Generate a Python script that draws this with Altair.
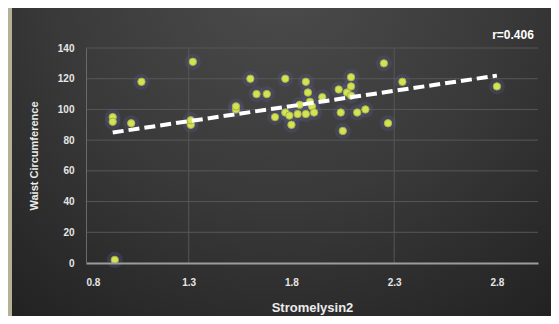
import altair as alt
import pandas as pd

# Data
stromelysin2 = [0.94, 0.93, 0.93, 1.02, 1.07, 1.32, 1.31, 1.31, 1.53, 1.53, 1.60, 1.63,
                1.68, 1.72, 1.77, 1.77, 1.79, 1.80, 1.83, 1.87, 1.87, 1.88, 1.89, 1.90,
                1.91, 2.03, 2.04, 2.05, 2.07, 2.09, 2.09, 2.09, 2.12, 2.16, 2.25, 2.27,
                2.34, 2.80, 1.84, 1.95]
waist = [2, 95, 92, 91, 118, 131, 90, 93, 100, 102, 120, 110,
         110, 95, 120, 98, 96, 90, 97, 97, 118, 111, 105, 102,
         98, 113, 98, 86, 111, 121, 115, 109, 98, 100, 130, 91,
         118, 115, 103, 108]

trend_x = [0.93, 2.80]
trend_y = [85, 122]

x_ticks = [0.8, 1.3, 1.8, 2.3, 2.8]
y_ticks = [0, 20, 40, 60, 80, 100, 120, 140]
hgrid_vals = [20, 40, 60, 80, 100, 120, 140]
vgrid_vals = [1.3, 2.3]
r_label = "r=0.406"

pts = pd.DataFrame({"x": stromelysin2, "y": waist})
trend = pd.DataFrame({"x": trend_x, "y": trend_y})
vgrid = pd.DataFrame({"x": vgrid_vals})
hgrid = pd.DataFrame({"y": hgrid_vals})
one = pd.DataFrame({"a": [0]})

xscale = alt.Scale(domain=[0.8, 3.0], nice=False, zero=False)
yscale = alt.Scale(domain=[0, 140], nice=False)
xaxis = alt.Axis(values=x_ticks, format=".1f", title="Stromelysin2", zindex=2,
                 domainColor="#9c9c9c", domainWidth=2, labelPadding=14,
                 titleFontSize=13, titlePadding=14)
yaxis = alt.Axis(values=y_ticks, title="Waist Circumference", zindex=2,
                 domainColor="#6a6a6a", labelPadding=12, titleFontSize=11,
                 titlePadding=18)

bg = alt.Chart(one).mark_rect(
    fill={
        "gradient": "radial",
        "x1": 0.5, "y1": 0.15, "r1": 0,
        "x2": 0.5, "y2": 0.15, "r2": 0.85,
        "stops": [
            {"offset": 0, "color": "#4c4c4c"},
            {"offset": 0.5, "color": "#393939"},
            {"offset": 1, "color": "#1f1f1f"},
        ],
    },
    clip=False,
).encode(x=alt.value(-78), x2=alt.value(465), y=alt.value(-40), y2=alt.value(268))

stripe = alt.Chart(one).mark_rect(fill="#b4b197", clip=False).encode(
    x=alt.value(-78), x2=alt.value(-74), y=alt.value(-40), y2=alt.value(268)
)

vg = alt.Chart(vgrid).mark_rule(color="#575757", strokeWidth=1).encode(
    x=alt.X("x:Q", scale=xscale, axis=xaxis)
)

hg = alt.Chart(hgrid).mark_rule(color="#575757", strokeWidth=1).encode(
    y=alt.Y("y:Q", scale=yscale, axis=yaxis)
)

halo = alt.Chart(pts).mark_circle(size=260, color="#5a5a95", opacity=0.28).encode(
    x=alt.X("x:Q", scale=xscale, axis=xaxis), y=alt.Y("y:Q", scale=yscale, axis=yaxis)
)

points = alt.Chart(pts).mark_circle(size=55, color="#d4e25a", opacity=1,
                                     stroke="#a4b43a", strokeWidth=1).encode(
    x=alt.X("x:Q", scale=xscale, axis=xaxis),
    y=alt.Y("y:Q", scale=yscale, axis=yaxis),
)

line = alt.Chart(trend).mark_line(color="white", strokeWidth=4, strokeDash=[11, 5]).encode(
    x=alt.X("x:Q", scale=xscale, axis=xaxis), y=alt.Y("y:Q", scale=yscale, axis=yaxis)
)

rtext = alt.Chart(one).mark_text(
    text=r_label, color="white", fontSize=12, fontWeight="bold",
    font="Liberation Sans", align="center", baseline="middle"
).encode(x=alt.value(427), y=alt.value(-13))

chart = alt.layer(bg, stripe, vg, hg, halo, points, line, rtext).properties(
    width=452, height=215,
    padding=0,
    background="#2e2e2e",
).configure_view(strokeWidth=0).configure_axis(
    labelFont="Liberation Sans", labelFontWeight="bold", labelFontSize=10,
    labelColor="#e6e6e6", titleFont="Liberation Sans", titleFontWeight="bold",
    titleColor="#ececec", ticks=False, grid=False,
)

chart.save("out.html", embed_options={"renderer": "svg", "actions": False})
